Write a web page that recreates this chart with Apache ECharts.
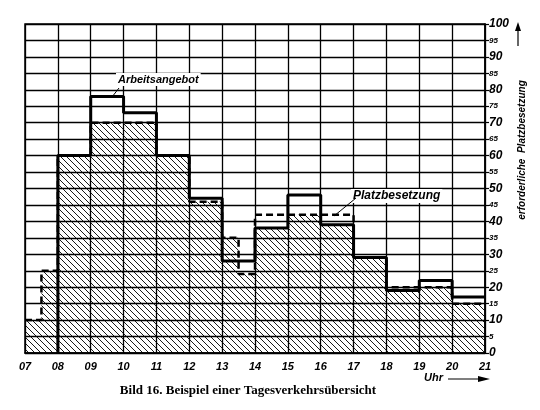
<!DOCTYPE html>
<html>
<head>
<meta charset="utf-8">
<script src="https://cdn.jsdelivr.net/npm/echarts@6/dist/echarts.min.js"></script>
<style>html,body{margin:0;padding:0;background:#fff;}#c{width:540px;height:410px;}</style>
</head>
<body>
<div id="c"></div>
<script>
// Hour labels on the x axis
const hourLabels = ['07','08','09','10','11','12','13','14','15','16','17','18','19','20','21'];
// Arbeitsangebot (solid step line): [hour, value] – value holds until next hour
const arbeitsangebot = [[8,0],[8,60],[9,78],[10,73],[11,60],[12,47],[13,28],[14,38],[15,48],[16,39],[17,29],[18,19],[19,22],[20,17],[21,17]];
// Platzbesetzung (dashed step line)
const platzbesetzung = [[7,10],[7.5,25],[8,60],[9,70],[11,60],[12,46],[13,35],[13.5,24],[14,42],[17,29],[18,20],[20,15],[21,15]];
// Hatched (covered) area
const hatched = [[7,10],[7.5,25],[8,60],[9,70],[11,60],[12,46],[13,35],[13.5,24],[14,38],[15,42],[16,39],[17,29],[18,19],[19,20],[20,15],[21,15]];
// Y tick values
const yMin = 0, yMax = 100, yStep = 5;

function hatchPattern() {
  const s = 6;
  const cv = document.createElement('canvas');
  cv.width = s; cv.height = s;
  const ctx = cv.getContext('2d');
  ctx.strokeStyle = '#000';
  ctx.lineWidth = 0.9;
  ctx.beginPath();
  ctx.moveTo(0,0); ctx.lineTo(s,s);
  ctx.moveTo(-2,s-2); ctx.lineTo(2,s+2);
  ctx.moveTo(s-2,-2); ctx.lineTo(s+2,2);
  ctx.stroke();
  return cv;
}

const chart = echarts.init(document.getElementById('c'), null, {renderer:'canvas'});
const option = {
  animation: false,
  backgroundColor: '#fff',
  grid: {left: 25, right: 55, top: 24, bottom: 57, show: true, borderColor: '#000', borderWidth: 1.5, backgroundColor: 'transparent'},
  xAxis: {
    type: 'value', min: 7, max: 21, interval: 1,
    axisLine: {show: true, lineStyle: {color: '#000', width: 1.5}},
    axisTick: {show: false},
    splitLine: {show: true, lineStyle: {color: '#000', width: 1.3}},
    axisLabel: {
      margin: 8, color: '#000', fontSize: 11, fontStyle: 'italic', fontWeight: 'bold',
      fontFamily: 'Liberation Sans',
      formatter: v => hourLabels[Math.round(v - 7)] || ''
    }
  },
  yAxis: {
    type: 'value', position: 'right', min: yMin, max: yMax, interval: yStep,
    axisLine: {show: true, lineStyle: {color: '#000', width: 1.5}},
    axisTick: {show: true, length: 4, lineStyle: {color: '#000', width: 1.2}},
    splitLine: {show: true, lineStyle: {color: '#000', width: 1.3}},
    axisLabel: {
      margin: 4, color: '#000',
      formatter: v => (v % 10 === 0 ? '{a|' + v + '}' : '{b|' + v + '}'),
      rich: {
        a: {fontSize: 12, fontStyle: 'italic', fontWeight: 'bold', fontFamily: 'Liberation Sans', color: '#000'},
        b: {fontSize: 8, fontStyle: 'italic', fontWeight: 'bold', fontFamily: 'Liberation Sans', color: '#000'}
      }
    }
  },
  series: [
    {
      name: 'hatch', type: 'line', step: 'end', data: hatched, symbol: 'none',
      lineStyle: {width: 0, opacity: 0},
      areaStyle: {color: {image: hatchPattern(), repeat: 'repeat'}, opacity: 1},
      z: 1, silent: true
    },
    {
      name: 'Platzbesetzung', type: 'line', step: 'end', data: platzbesetzung, symbol: 'none',
      lineStyle: {color: '#000', width: 2.5, type: [7, 4]}, z: 3, silent: true
    },
    {
      name: 'Arbeitsangebot', type: 'line', step: 'end', data: arbeitsangebot, symbol: 'none',
      lineStyle: {color: '#000', width: 3}, z: 4, silent: true
    }
  ],
  graphic: [
    {type: 'text', left: 116, top: 73, z: 10, style: {text: 'Arbeitsangebot', fill: '#000', font: 'italic bold 11px "Liberation Sans"', backgroundColor: '#fff', padding: [1,2]}},
    {type: 'line', z: 10, shape: {x1: 119, y1: 88, x2: 112, y2: 97}, style: {stroke: '#000', lineWidth: 1}},
    {type: 'text', left: 351, top: 189, z: 10, style: {text: 'Platzbesetzung', fill: '#000', font: 'italic bold 12px "Liberation Sans"', backgroundColor: '#fff', padding: [1,2]}},
    {type: 'line', z: 10, shape: {x1: 356, y1: 198, x2: 334, y2: 216}, style: {stroke: '#000', lineWidth: 1}},
    {type: 'text', x: 522, y: 150, rotation: Math.PI / 2, z: 10, style: {text: 'erforderliche  Platzbesetzung', fill: '#000', font: 'italic bold 10px "Liberation Sans"', align: 'center', verticalAlign: 'middle'}},
    {type: 'line', z: 10, shape: {x1: 518, y1: 26, x2: 518, y2: 46}, style: {stroke: '#000', lineWidth: 1.2}},
    {type: 'polygon', z: 10, shape: {points: [[518, 22], [515, 31], [521, 31]]}, style: {fill: '#000'}},
    {type: 'text', left: 424, top: 372, z: 10, style: {text: 'Uhr', fill: '#000', font: 'italic bold 11px "Liberation Sans"'}},
    {type: 'line', z: 10, shape: {x1: 448, y1: 379, x2: 482, y2: 379}, style: {stroke: '#000', lineWidth: 1.2}},
    {type: 'polygon', z: 10, shape: {points: [[490, 379], [478, 376], [478, 382]]}, style: {fill: '#000'}},
    {type: 'text', x: 248, y: 391, z: 10, style: {text: 'Bild 16. Beispiel einer Tagesverkehrsübersicht', fill: '#000', font: 'bold 13px "Liberation Serif"', align: 'center', verticalAlign: 'middle'}}
  ]
};
chart.setOption(option);
</script>
</body>
</html>
